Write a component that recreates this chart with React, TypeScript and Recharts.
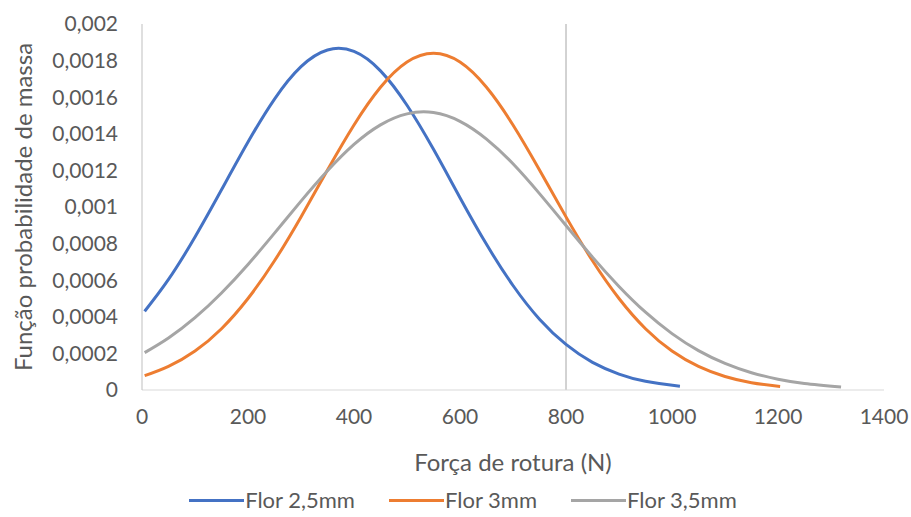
import { Legend, Line, LineChart, ReferenceLine, XAxis, YAxis } from 'recharts';

// Força de rotura (N) sample points for each curve
const forceFlor25 = [5, 50, 100, 150, 200, 250, 300, 350, 400, 450, 500, 550, 600, 650, 700, 750, 800, 850, 900, 950, 1015];
const pmfFlor25 = [
  0.00043, 0.000604, 0.000836, 0.001094, 0.001355, 0.00159, 0.001767, 0.001858, 0.00185, 0.001744, 0.001556,
  0.001315, 0.001051, 0.000796, 0.000571, 0.000387, 0.000249, 0.000151, 0.0000872, 0.0000476, 0.0000199,
];

const forceFlor3 = [5, 50, 100, 150, 200, 250, 300, 350, 400, 450, 500, 550, 600, 650, 700, 750, 800, 850, 900, 950, 1000, 1050, 1100, 1150, 1204];
const pmfFlor3 = [
  0.0000781, 0.000129, 0.000213, 0.000335, 0.0005, 0.000706, 0.000946, 0.001202, 0.001448, 0.001654, 0.001792,
  0.00184, 0.001792, 0.001654, 0.001448, 0.001202, 0.000946, 0.000706, 0.0005, 0.000335, 0.000213, 0.000129,
  0.0000737, 0.00004, 0.0000194,
];

const forceFlor35 = [5, 50, 100, 150, 200, 250, 300, 350, 400, 450, 500, 550, 600, 650, 700, 750, 800, 850, 900, 950, 1000, 1050, 1100, 1150, 1200, 1250, 1319];
const pmfFlor35 = [
  0.000204, 0.000284, 0.000395, 0.00053, 0.000686, 0.000857, 0.001032, 0.001198, 0.001342, 0.001449, 0.001509,
  0.001516, 0.001468, 0.001371, 0.001236, 0.001073, 0.000899, 0.000726, 0.000566, 0.000425, 0.000308, 0.000215,
  0.000145, 0.0000942, 0.0000591, 0.0000357, 0.0000168,
];

const xTicks = [0, 200, 400, 600, 800, 1000, 1200, 1400];
const yTicks = [0, 0.0002, 0.0004, 0.0006, 0.0008, 0.001, 0.0012, 0.0014, 0.0016, 0.0018, 0.002];
const limitForce = 800;

const series = [
  { name: 'Flor 2,5mm', color: '#4472C4', data: forceFlor25.map((x, i) => ({ x, y: pmfFlor25[i] })) },
  { name: 'Flor 3mm', color: '#ED7D31', data: forceFlor3.map((x, i) => ({ x, y: pmfFlor3[i] })) },
  { name: 'Flor 3,5mm', color: '#A5A5A5', data: forceFlor35.map((x, i) => ({ x, y: pmfFlor35[i] })) },
];

const FONT = 'Lato, "Noto Sans", sans-serif';
const TEXT = '#595959';

function ChartLegend() {
  return (
    <div
      style={{
        height: 36,
        display: 'flex',
        justifyContent: 'center',
        alignItems: 'flex-start',
        paddingTop: 7,
        paddingLeft: 42,
        boxSizing: 'border-box',
        gap: 34,
      }}
    >
      {series.map((s) => (
        <div key={s.name} style={{ display: 'flex', alignItems: 'center', height: 24 }}>
          <div style={{ width: 55, height: 3, background: s.color }} />
          <span style={{ fontFamily: FONT, fontSize: 22, lineHeight: '24px', color: TEXT, marginLeft: 1 }}>{s.name}</span>
        </div>
      ))}
    </div>
  );
}

export default function App() {
  return (
    <div style={{ position: 'absolute', left: 0, top: 0, width: 911, height: 517, background: '#fff' }}>
      <LineChart width={911} height={517} margin={{ top: 24, right: 27, bottom: 0, left: 0 }} style={{ fontFamily: FONT }}>
        <XAxis
          dataKey="x"
          type="number"
          domain={[0, 1400]}
          ticks={xTicks}
          allowDuplicatedCategory={false}
          height={91}
          stroke="#D9D9D9"
          tickLine={false}
          tickSize={0}
          tickMargin={19}
          tick={{ fill: TEXT, fontSize: 21 }}
          label={{ value: 'Força de rotura (N)', position: 'insideBottom', offset: 10, fill: TEXT, fontSize: 24 }}
        />
        <YAxis
          type="number"
          domain={[0, 0.002]}
          ticks={yTicks}
          width={142}
          stroke="#BFBFBF"
          tickLine={false}
          tickSize={0}
          tickMargin={24}
          tick={{ fill: TEXT, fontSize: 21 }}
          tickFormatter={(v: number) => String(v).replace('.', ',')}
          label={{
            value: 'Função probabilidade de massa',
            angle: -90,
            position: 'insideLeft',
            offset: 23,
            fill: TEXT,
            fontSize: 24,
            style: { textAnchor: 'middle' },
          }}
        />
        <ReferenceLine x={limitForce} stroke="#A6A6A6" strokeWidth={1} />
        {series.map((s) => (
          <Line
            key={s.name}
            data={s.data}
            dataKey="y"
            name={s.name}
            type="natural"
            stroke={s.color}
            strokeWidth={3}
            dot={false}
            activeDot={false}
            isAnimationActive={false}
          />
        ))}
        <Legend verticalAlign="bottom" content={() => <ChartLegend />} />
      </LineChart>
    </div>
  );
}
